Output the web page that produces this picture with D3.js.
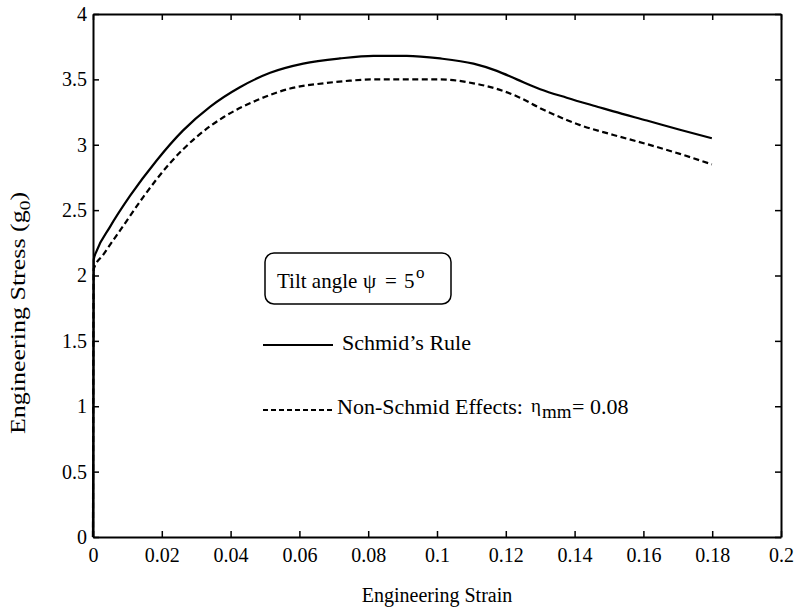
<!DOCTYPE html>
<html>
<head>
<meta charset="utf-8">
<script src="https://cdn.jsdelivr.net/npm/d3@7"></script>
<style>
  body { margin: 0; background: #fff; }
  svg text { font-family: "Liberation Serif", "DejaVu Serif", serif; fill: #000; }
</style>
</head>
<body>
<div id="chart"></div>
<script>
// strain / stress
const strainSchmid = [0, 0.0002, 0.0011, 0.0049, 0.0108, 0.0185, 0.0262, 0.034, 0.0427, 0.0515, 0.0611, 0.0718, 0.0815, 0.0912, 0.1009, 0.1106, 0.1174, 0.1232, 0.130, 0.1377, 0.1474, 0.1513, 0.161, 0.1706, 0.1799];
const stressSchmid = [0, 2.12, 2.19, 2.37, 2.61, 2.88, 3.11, 3.29, 3.44, 3.55, 3.62, 3.66, 3.68, 3.68, 3.66, 3.62, 3.565, 3.50, 3.425, 3.36, 3.285, 3.255, 3.185, 3.115, 3.05];

const strainNonSchmid = [0, 0.0002, 0.003, 0.0088, 0.0146, 0.0224, 0.0301, 0.0379, 0.0476, 0.0573, 0.067, 0.0747, 0.0815, 0.0912, 0.1009, 0.1106, 0.1183, 0.1241, 0.130, 0.1377, 0.1416, 0.1513, 0.161, 0.1706, 0.1799];
const stressNonSchmid = [0, 2.05, 2.16, 2.38, 2.60, 2.86, 3.06, 3.21, 3.34, 3.43, 3.47, 3.49, 3.50, 3.50, 3.50, 3.47, 3.42, 3.36, 3.28, 3.19, 3.15, 3.075, 3.005, 2.93, 2.85];

const xTicks = [0, 0.02, 0.04, 0.06, 0.08, 0.1, 0.12, 0.14, 0.16, 0.18, 0.2];
const yTicks = [0, 0.5, 1, 1.5, 2, 2.5, 3, 3.5, 4];

const W = 797, H = 608;
const margin = {top: 14, right: 16, bottom: 71, left: 93};
const width = W - margin.left - margin.right;
const height = H - margin.top - margin.bottom;

const svg = d3.select('#chart').append('svg')
    .attr('width', W)
    .attr('height', H);

const chart = svg.append('g')
    .attr('transform', 'translate(' + margin.left + ',' + margin.top + ')');

const x = d3.scaleLinear().domain([0, 0.2]).range([0, width]);
const y = d3.scaleLinear().domain([0, 4]).range([height, 0]);

const fmt = d => String(d);

// axes, ticks pointing inward on all four sides
const xAxisBottom = chart.append('g').attr('transform', 'translate(0,' + height + ')')
    .call(d3.axisBottom(x).tickValues(xTicks).tickFormat(fmt).tickSizeInner(-6).tickSizeOuter(0).tickPadding(11));
const xAxisTop = chart.append('g')
    .call(d3.axisTop(x).tickValues(xTicks).tickFormat('').tickSizeInner(-6).tickSizeOuter(0));
const yAxisLeft = chart.append('g')
    .call(d3.axisLeft(y).tickValues(yTicks).tickFormat(fmt).tickSizeInner(-6).tickSizeOuter(0).tickPadding(6));
const yAxisRight = chart.append('g').attr('transform', 'translate(' + width + ',0)')
    .call(d3.axisRight(y).tickValues(yTicks).tickFormat('').tickSizeInner(-6).tickSizeOuter(0));

[xAxisBottom, xAxisTop, yAxisLeft, yAxisRight].forEach(g => {
    g.select('.domain').attr('stroke', '#000').attr('stroke-width', 2);
    g.selectAll('.tick line').attr('stroke', '#000').attr('stroke-width', 1.5);
    g.selectAll('.tick text').style('font-size', '20px');
});

// -- curves
const line = d3.line()
    .x(d => x(d[0]))
    .y(d => y(d[1]))
    .curve(d3.curveMonotoneX);

chart.append('path')
    .datum(d3.zip(strainSchmid, stressSchmid))
    .attr('d', line)
    .attr('fill', 'none')
    .attr('stroke', '#000')
    .attr('stroke-width', 2.2);

chart.append('path')
    .datum(d3.zip(strainNonSchmid, stressNonSchmid))
    .attr('d', line)
    .attr('fill', 'none')
    .attr('stroke', '#000')
    .attr('stroke-width', 2.2)
    .attr('stroke-dasharray', '6,3.5');

// -- axis titles
svg.append('text')
    .attr('x', margin.left + width / 2)
    .attr('y', 602)
    .attr('text-anchor', 'middle')
    .style('font-size', '20px')
    .text('Engineering Strain');

// the scanned label is stretched along its length
const yt = svg.append('text')
    .attr('transform', 'translate(25,313) rotate(-90) scale(1.3,1)')
    .attr('text-anchor', 'middle')
    .style('font-size', '20px');
yt.append('tspan').text('Engineering Stress (g');
yt.append('tspan').attr('dy', 5).style('font-size', '15px').text('0');
yt.append('tspan').attr('dy', -5).text(')');

// -- legend
const leg = svg.append('g');
leg.append('rect')
    .attr('x', 265).attr('y', 253)
    .attr('width', 186).attr('height', 51)
    .attr('rx', 9)
    .attr('fill', 'none')
    .attr('stroke', '#000')
    .attr('stroke-width', 1.5);
const t1 = leg.append('text')
    .attr('y', 288)
    .style('font-size', '21px');
t1.append('tspan').attr('x', 277).text('Tilt angle');
t1.append('tspan').attr('x', 363).text('\u03C8');
t1.append('tspan').attr('x', 385).text('=');
t1.append('tspan').attr('x', 404).text('5');
t1.append('tspan').attr('x', 416).attr('dy', -10).style('font-size', '17px').text('o');

leg.append('line')
    .attr('x1', 263).attr('x2', 333).attr('y1', 345).attr('y2', 345)
    .attr('stroke', '#000').attr('stroke-width', 2.2);
leg.append('text')
    .attr('x', 342).attr('y', 350)
    .style('font-size', '22px')
    .text('Schmid\u2019s Rule');

leg.append('line')
    .attr('x1', 263).attr('x2', 333).attr('y1', 410).attr('y2', 410)
    .attr('stroke', '#000').attr('stroke-width', 2)
    .attr('stroke-dasharray', '5,3');
const t3 = leg.append('text')
    .attr('y', 414)
    .style('font-size', '22px');
t3.append('tspan').attr('x', 337).text('Non-Schmid Effects:');
t3.append('tspan').attr('x', 531).attr('dy', -2).style('font-size', '19px').text('\u03B7');
t3.append('tspan').attr('x', 542).attr('dy', 6).style('font-size', '19px').text('mm');
t3.append('tspan').attr('x', 572).attr('dy', -4).text('= 0.08');
</script>
</body>
</html>
